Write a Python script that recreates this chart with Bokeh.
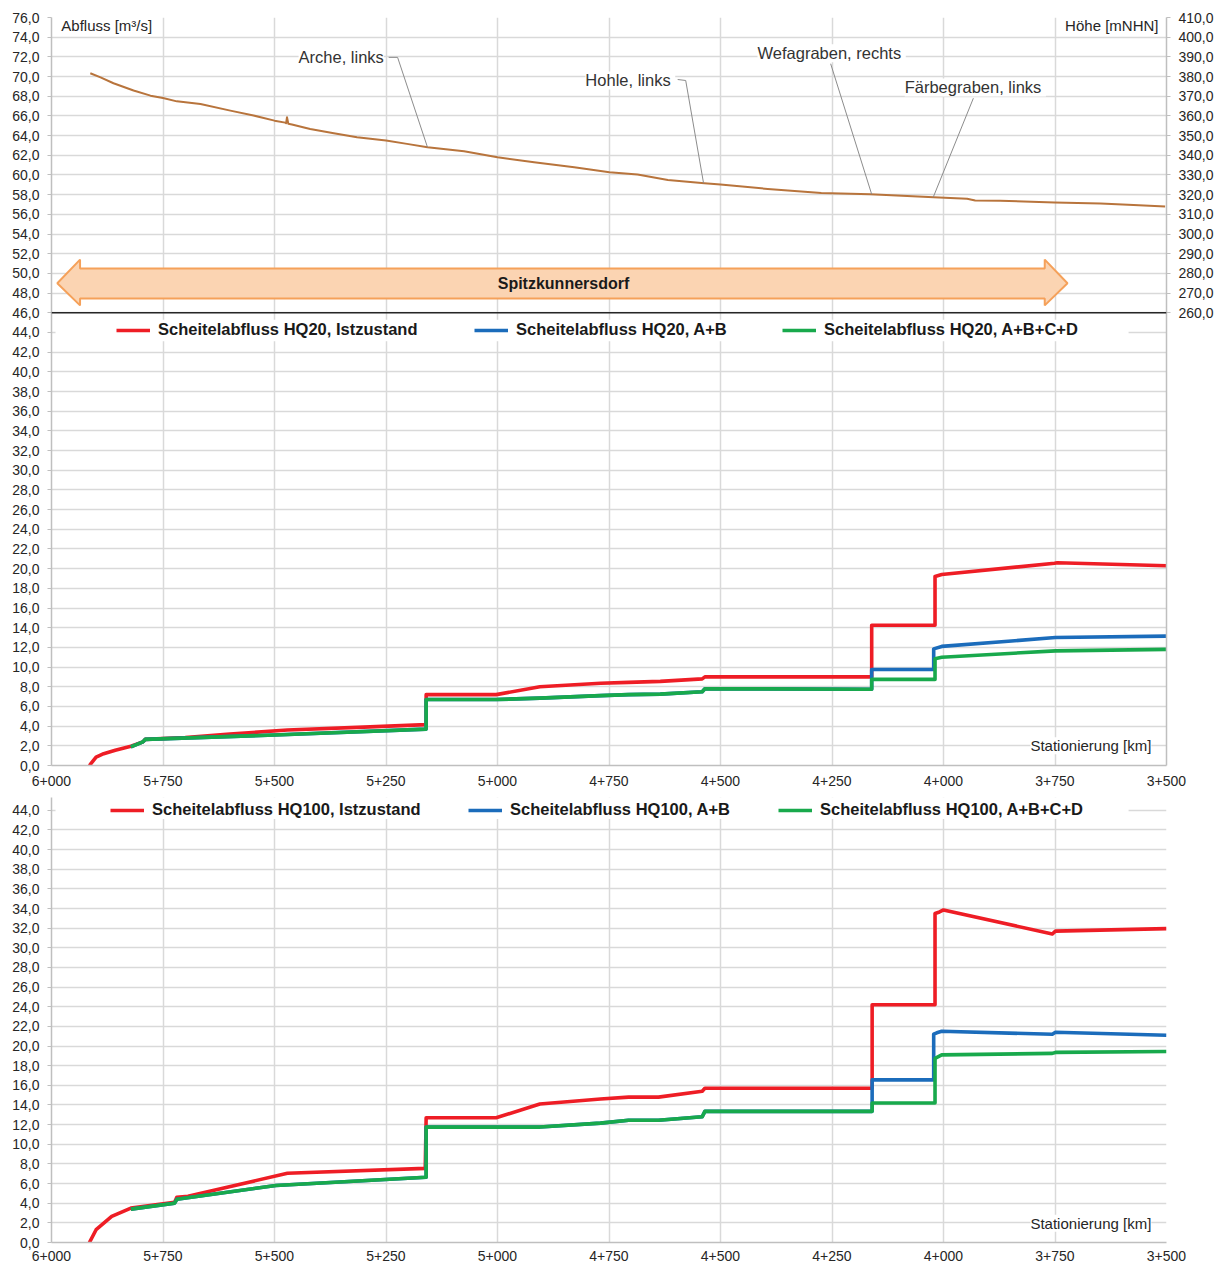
import numpy as np
from bokeh.plotting import figure
from bokeh.models import (Range1d, LinearAxis, FixedTicker, CustomJSTickFormatter, Span, Label,
                          Legend, LegendItem, BoxAnnotation)
from bokeh.layouts import column
from bokeh.embed import file_html
from bokeh.resources import INLINE

# ---------------- data ----------------
X_TICKS = [6000, 5750, 5500, 5250, 5000, 4750, 4500, 4250, 4000, 3750, 3500]
Y_TICKS_TOP = list(range(0, 77, 2))
Y_TICKS_BOTTOM = list(range(0, 45, 2))
H_TICKS = list(range(260, 411, 10))

# Elevation profile (station [m], height [m NHN])
ELEV_S = [5913, 5890, 5861, 5816, 5778, 5750, 5719, 5666, 5599, 5547, 5500, 5476, 5474, 5472,
          5469, 5461, 5420, 5367, 5315, 5250, 5203, 5157, 5075, 5000, 4918, 4828, 4749, 4686,
          4618, 4536, 4500, 4394, 4274, 4164, 4022, 3947, 3929, 3873, 3751, 3648, 3574, 3503]
ELEV_H = [381.7, 379.6, 376.6, 372.9, 370.3, 369.1, 367.4, 366.1, 362.7, 360.2, 357.6, 356.6, 356.3, 359.3,
          356.0, 355.6, 353.4, 351.2, 349.2, 347.5, 345.8, 344.1, 342.1, 339.0, 336.5, 333.9, 331.4, 330.2,
          327.5, 325.8, 325.1, 322.9, 320.9, 320.2, 318.7, 317.9, 317.0, 316.9, 316.0, 315.5, 314.7, 314.0]

# Tributaries (callouts)
TRIB_NAMES = ["Arche, links", "Hohle,  links", "Wefagraben,  rechts", "Färbegraben,  links"]
TRIB_S = [5157, 4538, 4161, 4023]

# HQ20
HQ20_IST_S = [5915, 5900, 5883, 5857, 5822, 5795, 5790, 5700, 5600, 5471, 5300, 5160, 5160, 5003, 4905,
              4769, 4706, 4635, 4541, 4535, 4161, 4161, 4019, 4019, 4004, 3751, 3745, 3500]
HQ20_IST_Q = [0.0, 0.85, 1.2, 1.55, 1.95, 2.4, 2.65, 2.85, 3.2, 3.6, 3.9, 4.15, 7.2, 7.2, 8.0,
              8.35, 8.45, 8.55, 8.8, 9.0, 9.0, 14.25, 14.25, 19.2, 19.4, 20.55, 20.6, 20.3]
HQ20_AB_S = [5822, 5795, 5790, 5500, 5160, 5160, 5003, 4905, 4769, 4706, 4635, 4541, 4535, 4161, 4161,
             4022, 4022, 4004, 3749, 3500]
HQ20_AB_Q = [1.9, 2.4, 2.65, 3.1, 3.7, 6.7, 6.7, 6.85, 7.1, 7.2, 7.25, 7.5, 7.8, 7.75, 9.75,
             9.75, 11.85, 12.1, 13.0, 13.15]
HQ20_ABCD_S = [5822, 5795, 5790, 5500, 5160, 5160, 5003, 4905, 4769, 4706, 4635, 4541, 4535, 4161, 4161,
               4019, 4019, 4004, 3749, 3500]
HQ20_ABCD_Q = [1.9, 2.4, 2.65, 3.1, 3.7, 6.7, 6.7, 6.85, 7.1, 7.2, 7.25, 7.5, 7.8, 7.75, 8.75,
               8.75, 10.85, 11.0, 11.65, 11.8]

# HQ100
HQ100_IST_S = [5915, 5900, 5865, 5822, 5724, 5719, 5694, 5471, 5162, 5160, 5003, 4905, 4769, 4706, 4639,
               4541, 4535, 4160, 4160, 4019, 4019, 4009, 4000, 3756, 3749, 3500]
HQ100_IST_Q = [0.0, 1.3, 2.65, 3.5, 4.1, 4.6, 4.7, 7.05, 7.55, 12.7, 12.7, 14.1, 14.6, 14.8, 14.8,
               15.4, 15.7, 15.7, 24.2, 24.2, 33.5, 33.65, 33.85, 31.4, 31.7, 31.95]
HQ100_AB_S = [5822, 5724, 5719, 5497, 5160, 5160, 4905, 4769, 4706, 4639, 4541, 4535, 4160, 4160,
              4022, 4022, 4015, 4004, 3756, 3749, 3500]
HQ100_AB_Q = [3.4, 4.0, 4.4, 5.8, 6.65, 11.75, 11.75, 12.15, 12.45, 12.45, 12.8, 13.35, 13.35, 16.55,
              16.55, 21.2, 21.35, 21.5, 21.2, 21.4, 21.1]
HQ100_ABCD_S = [5822, 5724, 5719, 5497, 5160, 5160, 4905, 4769, 4706, 4639, 4541, 4535, 4160, 4160,
                4019, 4019, 4004, 3756, 3749, 3500]
HQ100_ABCD_Q = [3.4, 4.0, 4.4, 5.8, 6.65, 11.75, 11.75, 12.15, 12.45, 12.45, 12.8, 13.35, 13.35, 14.2,
                14.2, 18.75, 19.1, 19.25, 19.35, 19.45]

LABELS_HQ20 = ["Scheitelabfluss HQ20, Istzustand", "Scheitelabfluss HQ20, A+B", "Scheitelabfluss HQ20, A+B+C+D"]
LABELS_HQ100 = ["Scheitelabfluss HQ100, Istzustand", "Scheitelabfluss HQ100, A+B", "Scheitelabfluss HQ100, A+B+C+D"]

TOWN = "Spitzkunnersdorf"

# ---------------- style ----------------
FONT = "Liberation Sans"
TXT = "#262626"
GRID = "#d9d9d9"
AXIS = "#bfbfbf"
RED = "#ee1d25"
BLUE = "#1b6cbb"
GREEN = "#18a94c"
BROWN = "#b8743c"

X_FMT = CustomJSTickFormatter(code="""
const t = Math.round(tick); const km = Math.floor(t/1000); const m = t - km*1000;
return km + '+' + String(m).padStart(3, '0');""")
Y_FMT = CustomJSTickFormatter(code="return tick.toFixed(1).replace('.', ',');")


def base_fig(frame_h, y_end, y_ticks, top, bottom, x_standoff):
    p = figure(frame_width=1115, frame_height=frame_h,
               x_range=Range1d(6000, 3500), y_range=Range1d(0, y_end),
               output_backend="svg", toolbar_location=None,
               min_border_left=51, min_border_right=50, min_border_top=top,
               min_border_bottom=bottom)
    p.outline_line_color = None
    p.background_fill_color = "white"
    p.border_fill_color = "white"
    p.xgrid.ticker = FixedTicker(ticks=X_TICKS)
    p.ygrid.ticker = FixedTicker(ticks=y_ticks)
    for g in (p.xgrid[0], p.ygrid[0]):
        g.grid_line_color = GRID
        g.grid_line_width = 1.5
    xa = p.xaxis[0]
    xa.ticker = FixedTicker(ticks=X_TICKS)
    xa.formatter = X_FMT
    ya = p.yaxis[0]
    ya.ticker = FixedTicker(ticks=y_ticks)
    ya.formatter = Y_FMT
    for ax in (xa, ya):
        ax.axis_line_color = AXIS
        ax.axis_line_width = 1.5
        ax.major_tick_line_color = AXIS
        ax.minor_tick_line_color = None
        ax.major_tick_in = 0
        ax.major_label_text_font = FONT
        ax.major_label_text_font_size = "14px"
        ax.major_label_text_color = TXT
    xa.major_tick_out = 0
    xa.major_label_standoff = x_standoff
    ya.major_tick_out = 4
    ya.major_label_standoff = 8
    return p


def add_legend(p, r, label, x, y):
    lg = Legend(items=[LegendItem(label=label, renderers=[r])], location=(x, y),
                orientation="horizontal", background_fill_alpha=0, border_line_color=None,
                padding=0, margin=0, spacing=0, glyph_width=34, glyph_height=18, label_height=18,
                label_standoff=8, label_text_font=FONT, label_text_font_style="bold",
                label_text_font_size="16.5px", label_text_color="#1a1a1a")
    p.add_layout(lg, "center")


def flow_lines(p, data, labels, xs, y):
    p.add_layout(BoxAnnotation(left=5991, right=3585, bottom=43.1, top=45.3,
                               fill_color="white", fill_alpha=1, line_color=None))
    rs = []
    for (s, q), c in zip(data, [RED, BLUE, GREEN]):
        rs.append(p.line(s, q, line_color=c, line_width=3.6, line_join="round"))
    for r, lab, x in zip(rs, labels, xs):
        add_legend(p, r, lab, x, y)


def stat_label(p, yq):
    p.add_layout(Label(x=3534, y=yq, text="Stationierung [km]", text_align="right",
                       text_baseline="middle", text_font=FONT, text_font_size="15px",
                       text_color=TXT, background_fill_color="white", background_fill_alpha=1))


# ---------------- top figure ----------------
p1 = base_fig(748, 76, Y_TICKS_TOP, 17, 26, 10)
p1.extra_y_ranges = {"hoehe": Range1d(30, 410)}
rax = LinearAxis(y_range_name="hoehe", ticker=FixedTicker(ticks=H_TICKS), formatter=Y_FMT)
rax.axis_line_color = AXIS
rax.axis_line_width = 1.5
rax.major_tick_line_color = AXIS
rax.minor_tick_line_color = None
rax.major_tick_in = 0
rax.major_tick_out = 4
rax.major_label_standoff = 8
rax.major_label_text_font = FONT
rax.major_label_text_font_size = "14px"
rax.major_label_text_color = TXT
p1.add_layout(rax, "right")

# arrow (Spitzkunnersdorf)
A_START, A_END, A_HEAD = 5987, 3722, 51
A_BODY_LO, A_BODY_HI, A_HEAD_LO, A_HEAD_HI, A_MID = 47.45, 50.5, 46.75, 51.4, 49.0
ax_ = [A_START, A_START - A_HEAD, A_START - A_HEAD, A_END + A_HEAD, A_END + A_HEAD, A_END,
       A_END + A_HEAD, A_END + A_HEAD, A_START - A_HEAD, A_START - A_HEAD]
ay_ = [A_MID, A_HEAD_HI, A_BODY_HI, A_BODY_HI, A_HEAD_HI, A_MID, A_HEAD_LO, A_BODY_LO, A_BODY_LO, A_HEAD_LO]
p1.patch(ax_, ay_, fill_color="#fbd4b2", line_color="#f5a15a", line_width=2)
p1.add_layout(Label(x=4852, y=A_MID, text=TOWN, text_align="center", text_baseline="middle",
                    text_font=FONT, text_font_size="16px", text_font_style="bold", text_color="#1a1a1a"))

p1.add_layout(Span(location=46, dimension="width", line_color="#262626", line_width=1.5))

# elevation line
p1.line(ELEV_S, ELEV_H, y_range_name="hoehe", line_color=BROWN, line_width=2, line_join="round")

# callouts
lab_pos = [(5446, 389.75), (4803, 378.0), (4417, 391.8), (4087, 374.5)]
leader_start = [[(5244, 389.75), (5224, 389.75)], [(4596, 378.5), (4578, 378.0)],
                [(4253, 386.5)], [(3933, 369.0)]]
for name, s, (lx, ly), pts in zip(TRIB_NAMES, TRIB_S, lab_pos, leader_start):
    h_end = float(np.interp(s, ELEV_S[::-1], ELEV_H[::-1]))
    xs = [pt[0] for pt in pts] + [s]
    ys = [pt[1] for pt in pts] + [h_end]
    p1.line(xs, ys, y_range_name="hoehe", line_color="#8c8c8c", line_width=1)
    p1.add_layout(Label(x=lx, y=ly, y_range_name="hoehe", text=name, text_align="left",
                        text_baseline="middle", text_font=FONT, text_font_size="16.5px",
                        text_color="#333333", background_fill_color="white", background_fill_alpha=1))

p1.add_layout(Label(x=5978, y=75.2, text="Abfluss [m³/s]", text_align="left", text_baseline="middle",
                    text_font=FONT, text_font_size="15px", text_color=TXT,
                    background_fill_color="white", background_fill_alpha=1))
p1.add_layout(Label(x=3518, y=75.2, text="Höhe [mNHN]", text_align="right", text_baseline="middle",
                    text_font=FONT, text_font_size="15px", text_color=TXT,
                    background_fill_color="white", background_fill_alpha=1))

flow_lines(p1, [(HQ20_IST_S, HQ20_IST_Q), (HQ20_AB_S, HQ20_AB_Q), (HQ20_ABCD_S, HQ20_ABCD_Q)],
           LABELS_HQ20, [65, 423, 731], 426)
stat_label(p1, 2.0)

# ---------------- bottom figure ----------------
p2 = base_fig(445, 45.3, Y_TICKS_BOTTOM, 6, 23, 8)
flow_lines(p2, [(HQ100_IST_S, HQ100_IST_Q), (HQ100_AB_S, HQ100_AB_Q), (HQ100_ABCD_S, HQ100_ABCD_Q)],
           LABELS_HQ100, [59, 417, 727], 423)
stat_label(p2, 1.95)

layout = column(p1, p2, spacing=0)
open("out.html", "w").write(file_html(layout, INLINE))
